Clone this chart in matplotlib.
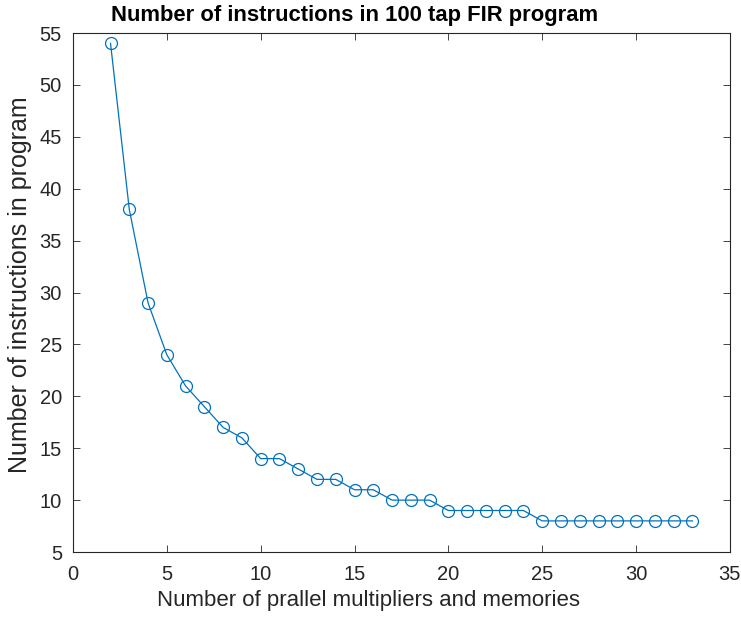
import matplotlib.pyplot as plt

plt.rcParams['font.family'] = ['Liberation Sans', 'DejaVu Sans']

multipliers = list(range(2, 34))
instructions = [54, 38, 29, 24, 21, 19, 17, 16, 14, 14, 13, 12, 12, 11, 11,
                10, 10, 10, 9, 9, 9, 9, 9, 8, 8, 8, 8, 8, 8, 8, 8, 8]

fig = plt.figure(figsize=(7.41, 6.17), dpi=100)
ax = fig.add_axes([0.0985, 0.1053, 0.8865, 0.8412])
ax.plot(multipliers, instructions, '-o', color='#0072BD', linewidth=0.9,
        markersize=8.6, markerfacecolor='none', markeredgewidth=0.9)
ax.set_xlim(0, 35)
ax.set_ylim(5, 55)
ax.set_xticks(range(0, 36, 5))
ax.set_yticks(range(5, 56, 5))
ax.tick_params(direction='in', top=True, right=True, labelsize=14.5,
               colors='#262626', length=5, width=0.6)
ax.tick_params(axis='x', pad=9)
ax.tick_params(axis='y', pad=8)
for s in ax.spines.values():
    s.set_color('#262626')
    s.set_linewidth(0.8)
ax.set_xlabel('Number of prallel multipliers and memories', fontsize=16,
              color='#262626')
ax.xaxis.set_label_coords(0.45, -0.074)
ax.set_ylabel('Number of instructions in program', fontsize=18,
              color='#262626')
ax.yaxis.set_label_coords(-0.062, 0.516)
ax.set_title('Number of instructions in 100 tap FIR program', fontsize=15.8,
             fontweight='bold', x=0.428, pad=9)
fig.savefig('out.png', dpi=100)
